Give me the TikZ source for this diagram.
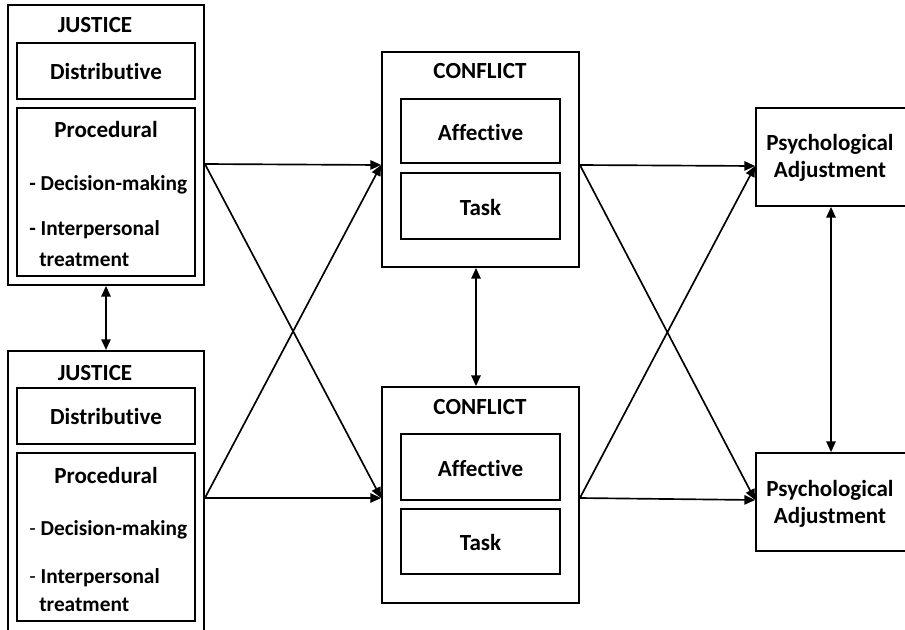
\documentclass[tikz,border=0pt]{standalone}
\usepackage{fontspec}
\setmainfont[Ligatures=NoCommon]{Carlito}
\usetikzlibrary{arrows.meta}
\begin{document}
\begin{tikzpicture}[x=0.75pt,y=-0.75pt,
  box/.style={draw,line width=1.35pt,inner sep=0pt,anchor=center},
  lbl/.style={font=\fontsize{17.3}{20}\selectfont\bfseries,inner sep=0pt},
  item/.style={font=\fontsize{16}{19}\selectfont\bfseries,inner sep=0pt,anchor=west},
  arr/.style={line width=1.25pt,-{Triangle[length=8pt,width=7pt]}},
  darr/.style={line width=1.25pt,{Triangle[length=8pt,width=7pt]}-{Triangle[length=8pt,width=7pt]}}]
\useasboundingbox (0,0) rectangle (905,629);
\clip (0,0) rectangle (905,629);
% ---- Justice top
\node[box,minimum width=147pt,minimum height=210pt] (J1) at (106,145) {};
\node[box,minimum width=133.5pt,minimum height=42pt] (D1) at (106,71) {};
\node[box,minimum width=133.5pt,minimum height=126pt] (P1) at (106,192) {};
\node[lbl] (J1t) at (95,25) {JUSTICE};
\node[lbl] (D1t) at (106,71) {Distributive};
\node[lbl] (P1t) at (106,129) {Procedural};
\node[item] (P1a) at (29,185) {- Decision-making};
\node[item] (P1b) at (29,230) {- Interpersonal};
\node[item] (P1c) at (39,260) {treatment};
% ---- Justice bottom
\node[box,minimum width=147pt,minimum height=220pt] (J2) at (106,497.5) {};
\node[box,minimum width=133.5pt,minimum height=42pt] (D2) at (106,416) {};
\node[box,minimum width=133.5pt,minimum height=126pt] (P2) at (106,537) {};
\node[lbl] (J2t) at (95,373) {JUSTICE};
\node[lbl] (D2t) at (106,416) {Distributive};
\node[lbl] (P2t) at (106,475) {Procedural};
\node[item] (P2a) at (29,530) {{\mdseries -} Decision-making};
\node[item] (P2b) at (29,578) {{\mdseries -} Interpersonal};
\node[item] (P2c) at (39,605) {treatment};
% ---- Conflict top
\node[box,minimum width=147.75pt,minimum height=161.25pt] (C1) at (480.5,159.5) {};
\node[box,minimum width=119.25pt,minimum height=48pt] (A1) at (480.5,131) {};
\node[box,minimum width=119.25pt,minimum height=49.5pt] (T1) at (480.5,206) {};
\node[lbl] (C1t) at (480,71) {CONFLICT};
\node[lbl] (A1t) at (480.5,132) {Affective};
\node[lbl] (T1t) at (480.5,207) {Task};
% ---- Conflict bottom
\node[box,minimum width=147.75pt,minimum height=162pt] (C2) at (480.5,495) {};
\node[box,minimum width=119.25pt,minimum height=49.5pt] (A2) at (480.5,467) {};
\node[box,minimum width=119.25pt,minimum height=48.75pt] (T2) at (480.5,541.5) {};
\node[lbl] (C2t) at (480,407) {CONFLICT};
\node[lbl] (A2t) at (480.5,468) {Affective};
\node[lbl] (T2t) at (480.5,542) {Task};
% ---- Psychological adjustment
\node[box,minimum width=114pt,minimum height=73.5pt] (Y1) at (832,157) {};
\node[box,minimum width=114pt,minimum height=73.5pt] (Y2) at (832,502) {};
\node[lbl,align=center,font=\fontsize{17.3}{20.5}\selectfont\bfseries] (Y1t) at (830,158) {Psychological\\Adjustment};
\node[lbl,align=center,font=\fontsize{17.3}{20.5}\selectfont\bfseries] (Y2t) at (830,504) {Psychological\\Adjustment};
% ---- connector end points
\coordinate (j1r) at (J1.east |- 0,164);
\coordinate (j2r) at (J2.east |- 0,498);
\coordinate (c1l) at (C1.west |- 0,165);
\coordinate (c2l) at (C2.west |- 0,498);
\coordinate (c1r) at (C1.east |- 0,165);
\coordinate (c2r) at (C2.east |- 0,498);
\coordinate (y1l) at (Y1.west |- 0,166);
\coordinate (y2l) at (Y2.west |- 0,500);
% ---- arrows
\draw[arr] (j1r) -- (c1l);
\draw[arr] (j1r) -- (c2l);
\draw[arr] (j2r) -- (c1l);
\draw[arr] (j2r) -- (c2l);
\draw[arr] (c1r) -- (y1l);
\draw[arr] (c1r) -- (y2l);
\draw[arr] (c2r) -- (y1l);
\draw[arr] (c2r) -- (y2l);
\draw[darr] (J1.south) -- (J2.north);
\draw[darr] (C1.south -| 476,0) -- (C2.north -| 476,0);
\draw[darr] (Y1.south -| 831,0) -- (Y2.north -| 831,0);
\end{tikzpicture}
\end{document}
